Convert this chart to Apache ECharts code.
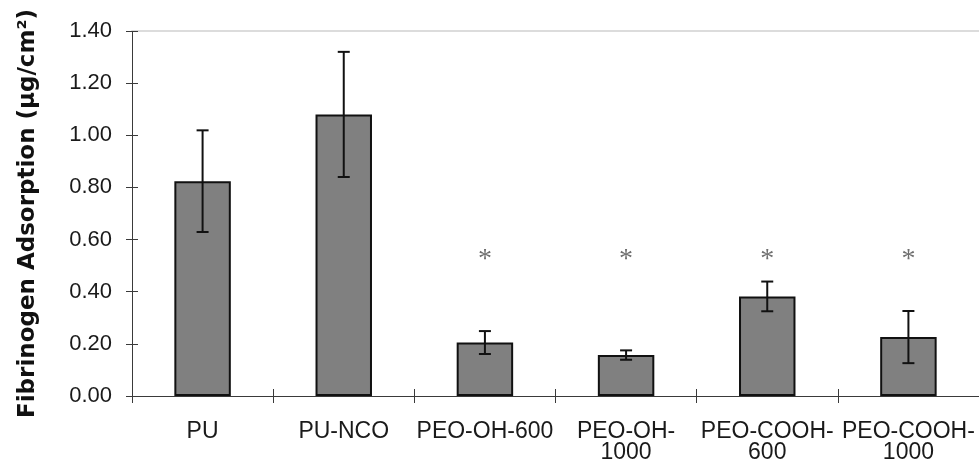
<!DOCTYPE html>
<html>
<head>
<meta charset="utf-8">
<script src="https://cdn.jsdelivr.net/npm/echarts@6/dist/echarts.min.js"></script>
<style>
  html, body { margin: 0; padding: 0; background: #fff; }
  #chart { width: 979px; height: 464px; }
</style>
</head>
<body>
<div id="chart"></div>
<script>
// Fibrinogen adsorption on modified polyurethane surfaces
const categories = ['PU', 'PU-NCO', 'PEO-OH-600', 'PEO-OH-\n1000', 'PEO-COOH-\n600', 'PEO-COOH-\n1000'];
const meanValues = [0.824, 1.080, 0.205, 0.157, 0.382, 0.226];
const errValues  = [0.195, 0.240, 0.044, 0.018, 0.057, 0.100];
// height at which the significance asterisk is placed (null = none)
const sigMarks   = [null, null, 0.55, 0.55, 0.55, 0.55];
const yTicks = { min: 0, max: 1.4, interval: 0.2 };

const chart = echarts.init(document.getElementById('chart'), null, { renderer: 'canvas' });

const errorData = meanValues.map((v, i) => [i, v - errValues[i], v + errValues[i]]);
const sigData = sigMarks.map((v, i) => (v == null ? null : [i, v])).filter(Boolean);

const axisColor = '#3a3a3a';
const tickFont = { fontFamily: 'Liberation Sans', fontSize: 22, color: '#1a1a1a' };

chart.setOption({
  animation: false,
  backgroundColor: '#ffffff',
  grid: { left: 132, right: 0, top: 31, bottom: 65, containLabel: false },
  xAxis: [
    {
      type: 'category',
      data: categories,
      position: 'bottom',
      axisLine: { lineStyle: { color: axisColor, width: 1 } },
      axisTick: { show: true, length: 7, lineStyle: { color: axisColor } },
      axisLabel: Object.assign({ margin: 25, lineHeight: 21, interval: 0 }, tickFont, { fontSize: 23 }),
      splitLine: { show: false }
    },
    {
      type: 'category',
      data: categories,
      position: 'bottom',
      axisLine: { show: false },
      axisTick: { show: true, inside: true, length: 7, lineStyle: { color: axisColor } },
      axisLabel: { show: false }
    },
    {
      type: 'category',
      data: categories,
      position: 'top',
      axisLine: { lineStyle: { color: '#dcdcdc', width: 2 } },
      axisTick: { show: false },
      axisLabel: { show: false }
    }
  ],
  yAxis: [
    {
      type: 'value',
      min: yTicks.min, max: yTicks.max, interval: yTicks.interval,
      name: 'Fibrinogen Adsorption (μg/cm²)',
      nameLocation: 'middle',
      nameGap: 92,
      nameTextStyle: { fontFamily: 'DejaVu Sans', fontWeight: 'bold', fontSize: 23, color: '#111' },
      axisLine: { show: true, lineStyle: { color: axisColor, width: 1 } },
      axisTick: { show: true, length: 6, lineStyle: { color: axisColor } },
      axisLabel: Object.assign({ margin: 20, formatter: v => v.toFixed(2) }, tickFont),
      splitLine: { show: false }
    },
    {
      type: 'value',
      min: yTicks.min, max: yTicks.max, interval: yTicks.interval,
      position: 'left',
      axisLine: { show: false },
      axisTick: { show: true, inside: true, length: 6, lineStyle: { color: axisColor } },
      axisLabel: { show: false },
      splitLine: { show: false }
    }
  ],
  series: [
    {
      type: 'bar',
      data: meanValues,
      barWidth: '40%',
      itemStyle: { color: '#808080', borderColor: '#111', borderWidth: 2 },
      z: 2
    },
    {
      type: 'custom',
      data: errorData,
      z: 3,
      renderItem: function (params, api) {
        const x = api.value(0);
        const lo = api.coord([x, api.value(1)]);
        const hi = api.coord([x, api.value(2)]);
        const half = 6;
        const style = { stroke: '#111', lineWidth: 2 };
        return {
          type: 'group',
          children: [
            { type: 'line', shape: { x1: hi[0], y1: hi[1], x2: lo[0], y2: lo[1] }, style },
            { type: 'line', shape: { x1: hi[0] - half, y1: hi[1], x2: hi[0] + half, y2: hi[1] }, style },
            { type: 'line', shape: { x1: lo[0] - half, y1: lo[1], x2: lo[0] + half, y2: lo[1] }, style }
          ]
        };
      }
    },
    {
      type: 'scatter',
      data: sigData,
      symbolSize: 1,
      itemStyle: { color: 'rgba(0,0,0,0)' },
      label: {
        show: true,
        position: 'inside',
        formatter: '*',
        fontFamily: 'Liberation Serif',
        fontSize: 28,
        color: '#4a4a4a',
        offset: [0, 7]
      },
      z: 4
    }
  ]
});
</script>
</body>
</html>
